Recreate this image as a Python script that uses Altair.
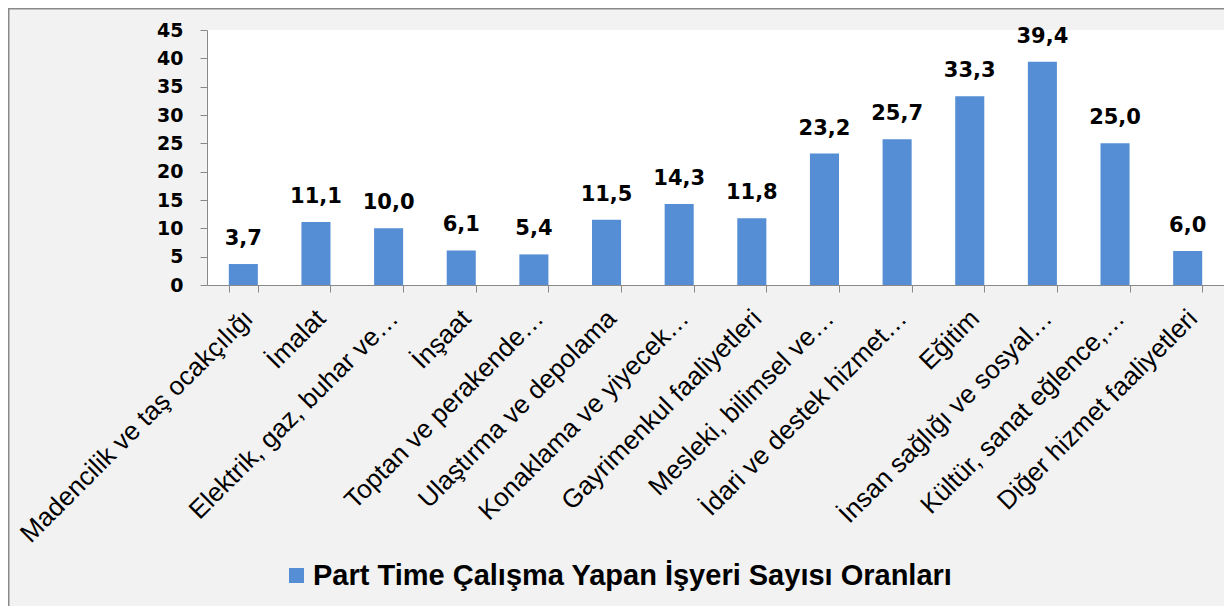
import altair as alt
import pandas as pd

categories = [
    "Madencilik ve taş ocakçılığı",
    "İmalat",
    "Elektrik, gaz, buhar ve…",
    "İnşaat",
    "Toptan ve perakende…",
    "Ulaştırma ve depolama",
    "Konaklama ve yiyecek…",
    "Gayrimenkul faaliyetleri",
    "Mesleki, bilimsel ve…",
    "İdari ve destek hizmet…",
    "Eğitim",
    "İnsan sağlığı ve sosyal…",
    "Kültür, sanat eğlence,…",
    "Diğer hizmet faaliyetleri",
]
values = [3.7, 11.1, 10.0, 6.1, 5.4, 11.5, 14.3, 11.8, 23.2, 25.7, 33.3, 39.4, 25.0, 6.0]
series_name = "Part Time Çalışma Yapan İşyeri Sayısı Oranları"
y_ticks = [0, 5, 10, 15, 20, 25, 30, 35, 40, 45]

df = pd.DataFrame({
    "kategori": categories,
    "deger": values,
    "etiket": [f"{v:.1f}".replace(".", ",") for v in values],
    "seri": [series_name] * len(values),
})

W, H = 1017, 255
PL, PT = 199, 22

x_enc = alt.X(
    "kategori:N",
    sort=None,
    scale=alt.Scale(paddingInner=0.6, paddingOuter=0.3),
    axis=alt.Axis(
        title=None,
        labelAngle=-45,
        labelAlign="right",
        labelBaseline="middle",
        labelFont="Liberation Sans",
        labelFontSize=26,
        labelColor="black",
        labelPadding=22,
        labelOffset=5,
        labelLimit=0,
        labelOverlap=False,
        labelFlush=False,
        tickBand="extent",
        tickSize=7,
        tickColor="#898989",
        domainColor="#898989",
        grid=False,
    ),
)
y_enc = alt.Y(
    "deger:Q",
    scale=alt.Scale(domain=[0, 45], nice=False, zero=True),
    axis=alt.Axis(
        title=None,
        values=y_ticks,
        tickCount=10,
        labelFont="DejaVu Sans",
        labelFontWeight="bold",
        labelFontSize=19,
        labelColor="black",
        labelPadding=17,
        labelOverlap=False,
        labelFlush=False,
        tickSize=7,
        tickColor="#898989",
        domainColor="#898989",
        grid=False,
    ),
)

base = alt.Chart(df).encode(x=x_enc, y=y_enc)

bars = base.mark_bar(color="#558ED5").encode(
    color=alt.Color(
        "seri:N",
        scale=alt.Scale(range=["#558ED5"]),
        legend=alt.Legend(
            title=None,
            orient="none",
            legendX=75,
            legendY=531,
            symbolType="square",
            symbolSize=225,
            symbolStrokeWidth=0,
            labelFont="Liberation Sans",
            labelFontWeight="bold",
            labelFontSize=29,
            labelColor="black",
            labelOffset=2,
            labelLimit=0,
            padding=0,
        ),
    ),
)

labels = base.mark_text(
    font="DejaVu Sans",
    fontWeight="bold",
    fontSize=21,
    baseline="alphabetic",
    dy=-19,
    color="black",
).encode(text="etiket:N")

frame = alt.Chart(pd.DataFrame({"k": [0]})).mark_rect(
    fill=None, stroke="#898989", strokeWidth=1.5
).encode(
    x=alt.value(-PL + 0.75),
    x2=alt.value(W + 40),
    y=alt.value(-PT + 0.75),
    y2=alt.value(H + 400),
)

chart = alt.layer(bars, labels, frame).properties(
    width=W,
    height=H,
    autosize="none",
    padding={"left": PL, "top": PT, "right": 0, "bottom": 321},
    background="#F2F2F2",
).configure_view(fill="white", stroke=None)

chart.save("out.html", embed_options={"renderer": "svg", "actions": False})
